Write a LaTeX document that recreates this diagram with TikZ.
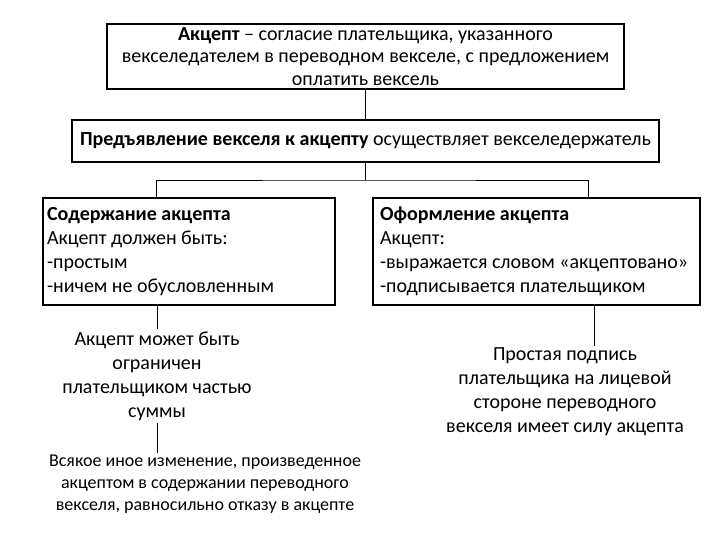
\documentclass[tikz,border=0pt]{standalone}
\usepackage{fontspec}
\setmainfont{Carlito}
\tikzset{
  ramka/.style={draw, line width=1.6pt, inner sep=0pt},
  tekst/.style={align=center, inner sep=2pt},
  svyaz/.style={line width=0.8pt}
}

\begin{document}
\begin{tikzpicture}[x=1pt, y=-1pt, font=\fontsize{20}{24}\selectfont]
		\useasboundingbox (0,0) rectangle (720,540);
		% акцепт
		\node[ramka, minimum width=517pt, minimum height=65pt, text width=512pt, align=flush center,
		      font=\fontsize{20}{22.5}\selectfont] (akcept) at (365.5,56.5)
		  {\textbf{Акцепт} -- согласие плательщика, указанного\\ векселедателем в переводном векселе, с предложением\\ оплатить вексель};
		% предъявление
		\node[ramka, minimum width=587pt, minimum height=42pt] (predj) at (365.5,141)
		  {\textbf{Предъявление векселя к акцепту} осуществляет векселедержатель};
		% содержание и оформление
		\node[ramka, minimum width=292pt, minimum height=107pt, text width=284pt, align=flush left] (soder) at (189,251.5)
		  {\textbf{Содержание акцепта}\\ Акцепт должен быть:\\ -простым\\ -ничем не обусловленным};
		\node[ramka, minimum width=327pt, minimum height=107pt, text width=313pt, align=flush left] (oform) at (536.5,251.5)
		  {\textbf{Оформление акцепта}\\ Акцепт:\\ -выражается словом «акцептовано»\\ -подписывается плательщиком};
		% пояснения
		\node[tekst] (ogran) at (157,376) {Акцепт может быть\\ ограничен\\ плательщиком частью\\ суммы};
		\node[tekst, font=\fontsize{18}{22}\selectfont] (inoe) at (205,484)
		  {Всякое иное изменение, произведенное\\ акцептом в содержании переводного\\ векселя, равносильно отказу в акцепте};
		\node[tekst] (prost) at (565,392) {Простая подпись\\ плательщика на лицевой\\ стороне переводного\\ векселя имеет силу акцепта};

		\coordinate (razv) at (365.5,180);
		\draw[svyaz] (akcept.south) -- (predj.north);
		\draw[svyaz] (predj.south) -- (razv);
		\draw[svyaz] ([xshift=-33pt]soder.north) |- (razv) -| ([xshift=51.5pt]oform.north);

		\draw[svyaz] ([xshift=-32pt]soder.south) -- (ogran.north);
		\draw[svyaz] (ogran.south) -- (ogran.south |- inoe.north);
		\draw[svyaz] ([xshift=57.5pt]oform.south) -- ([xshift=57.5pt]oform.south |- prost.north);
	\end{tikzpicture}
\end{document}
